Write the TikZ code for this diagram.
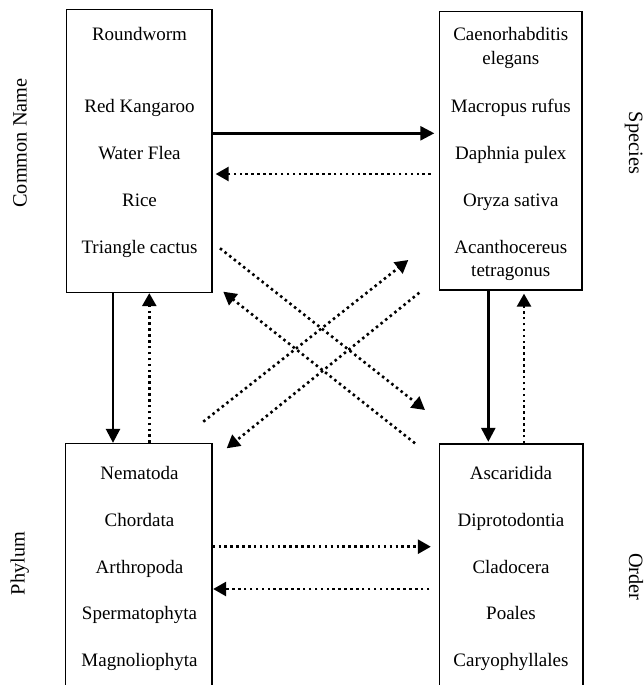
\documentclass[tikz,border=0pt]{standalone}
\usepackage{fontspec}
\setmainfont{Liberation Serif}
\usetikzlibrary{arrows.meta}
\begin{document}
\begin{tikzpicture}[x=1pt,y=-1pt,
  box/.style={draw,line width=1.3pt,inner sep=0pt},
  lbl/.style={font=\fontsize{19}{22}\selectfont,anchor=base,inner sep=0pt},
  side/.style={font=\fontsize{20.3}{24}\selectfont,inner sep=0pt,text height=13.4pt,text depth=4.4pt},
  solidarrow/.style={line width=2.5pt,-{Triangle[length=14pt,width=14pt]}},
  dotarrow/.style={line width=2.6pt,dash pattern=on 2.5pt off 3.4pt,-{Triangle[length=13pt,width=14pt]}}]
\useasboundingbox (0,0) rectangle (644,685);
\clip (0,0) rectangle (644,685);
\fill[white] (0,0) rectangle (644,685);

% boxes
\node[box,minimum width=145.5pt,minimum height=283pt] (TL) at (139.25,151) {};
\node[box,minimum width=142.5pt,minimum height=278.5pt] (TR) at (510.75,150.75) {};
\node[box,minimum width=146.5pt,minimum height=276.5pt] (BL) at (138.75,581.75) {};
\node[box,minimum width=143.5pt,minimum height=276pt] (BR) at (511.25,582) {};

% side labels
\node[side,rotate=90] (cn) at (22,143) {Common Name};
\node[side,rotate=-90] (sp) at (633.5,143) {Species};
\node[side,rotate=90] (ph) at (20,563.5) {Phylum};
\node[side,rotate=-90] (od) at (633.5,577) {Order};

% top-left texts
\node[lbl] (t1) at (139.5,40.7) {Roundworm};
\node[lbl] (t2) at (139.5,112) {Red Kangaroo};
\node[lbl] (t3) at (139.5,159) {Water Flea};
\node[lbl] (t4) at (139.5,206) {Rice};
\node[lbl] (t5) at (139.5,253) {Triangle cactus};

% top-right texts
\node[lbl] (s1a) at (510.8,40.6) {Caenorhabditis};
\node[lbl] (s1b) at (510.8,64) {elegans};
\node[lbl] (s2) at (510.8,112) {Macropus rufus};
\node[lbl] (s3) at (510.8,159) {Daphnia pulex};
\node[lbl] (s4) at (510.8,206) {Oryza sativa};
\node[lbl] (s5a) at (510.8,253) {Acanthocereus};
\node[lbl] (s5b) at (510.8,276) {tetragonus};

% bottom-left texts
\node[lbl] (p1) at (139.5,479) {Nematoda};
\node[lbl] (p2) at (139.5,526) {Chordata};
\node[lbl] (p3) at (139.5,573) {Arthropoda};
\node[lbl] (p4) at (139.5,619.6) {Spermatophyta};
\node[lbl] (p5) at (139.5,666) {Magnoliophyta};

% bottom-right texts
\node[lbl] (o1) at (511,479) {Ascaridida};
\node[lbl] (o2) at (511,526) {Diprotodontia};
\node[lbl] (o3) at (511,573) {Cladocera};
\node[lbl] (o4) at (511,619.6) {Poales};
\node[lbl] (o5) at (511,666) {Caryophyllales};

% horizontal connectors
\draw[solidarrow,shorten >=4.5pt] (TL.east |- 0,133.3) -- (TR.west |- 0,133.3);
\draw[dotarrow,shorten <=8pt,shorten >=3pt] (TR.west |- 0,174) -- (TL.east |- 0,174);
\draw[dotarrow,shorten >=8pt] (BL.east |- 0,546.7) -- (BR.west |- 0,546.7);
\draw[dotarrow,shorten <=9.5pt,shorten >=0.5pt] (BR.west |- 0,589) -- (BL.east |- 0,589);

% vertical connectors
\draw[solidarrow] (TL.south -| 113,0) -- (BL.north -| 113,0);
\draw[dotarrow] (BL.north -| 149.3,0) -- (TL.south -| 149.3,0);
\draw[solidarrow,shorten >=1.5pt] (TR.south -| 488.3,0) -- (BR.north -| 488.3,0);
\draw[dotarrow,shorten >=3pt] (BR.north -| 524,0) -- (TR.south -| 524,0);

% diagonal connectors
\coordinate (a1) at (220,248.3);
\coordinate (a2) at (425,410);
\coordinate (b1) at (415,443.3);
\coordinate (b2) at (223.3,291.7);
\coordinate (c1) at (203.3,421.7);
\coordinate (c2) at (408.3,260);
\coordinate (d1) at (419.3,292.7);
\coordinate (d2) at (226.7,448.3);
\draw[dotarrow] (a1) -- (a2);
\draw[dotarrow] (b1) -- (b2);
\draw[dotarrow] (c1) -- (c2);
\draw[dotarrow] (d1) -- (d2);
\end{tikzpicture}
\end{document}
